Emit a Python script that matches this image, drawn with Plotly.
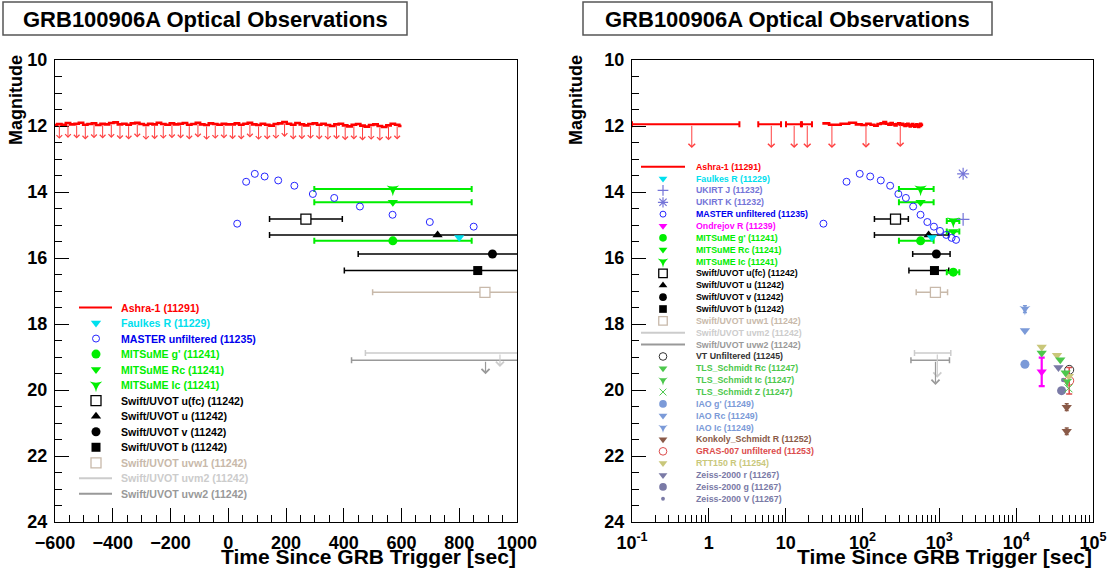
import numpy as np
import plotly.graph_objects as go

W, H = 1112, 576
FONT = "Liberation Sans"

# ----------------------------- data -----------------------------
# Ashra-1 (11291) upper limits, linear-time view
ashra_t = [-600, -585, -570, -555, -540, -525, -510, -495, -480, -465,
           -450, -435, -420, -405, -390, -375, -360, -345, -330, -315,
           -300, -285, -270, -255, -240, -225, -210, -195, -180, -165,
           -150, -135, -120, -105, -90, -75, -60, -45, -30, -15,
           0, 15, 30, 45, 60, 75, 90, 105, 120, 135,
           150, 165, 180, 195, 210, 225, 240, 255, 270, 285,
           300, 315, 330, 345, 360, 375, 390, 405, 420, 435,
           450, 465, 480, 495, 510, 525, 540, 555, 570, 585,
           600]
ashra_mag = [11.97, 11.94, 11.96, 11.91, 11.95, 11.93, 11.90, 11.96, 11.94, 11.92,
             11.97, 11.93, 11.95, 11.91, 11.89, 11.95, 11.93, 11.96, 11.92, 11.90,
             11.94, 11.97, 11.93, 11.95, 11.90, 11.94, 11.96, 11.92, 11.95, 11.93,
             11.91, 11.96, 11.94, 11.90, 11.95, 11.97, 11.92, 11.94, 11.96, 11.93,
             11.95, 11.95, 11.92, 11.96, 11.93, 11.90, 11.95, 11.97, 11.93, 11.96,
             11.99, 11.94, 11.92, 11.88, 11.93, 11.96, 11.91, 11.95, 11.98, 11.94,
             11.92, 11.96, 11.93, 11.97, 12.00, 11.95, 11.93, 11.98, 12.01, 11.96,
             11.94, 11.99, 12.02, 11.97, 11.95, 12.00, 12.03, 11.98, 11.93, 11.96,
             12.00]
# Ashra-1 early bins and upper-limit marks (log-time view)
ashra_bin_t = [0.6, 6.5, 12.9, 19.1]
ashra_bin_lo = [-1.3, 4.4, 10.1, 16.3]
ashra_bin_hi = [2.5, 8.7, 15.8, 22.0]
ashra_bin_mag = [11.95, 11.95, 11.95, 11.95]
ashra_ul_t = [40, 111, 310]
ashra_ul_mag = [11.95, 11.94, 11.92]

faulkes_t = [800]
faulkes_mag = [15.38]

ukirt_j_t = [2040]
ukirt_j_mag = [14.83]
ukirt_k_t = [2040]
ukirt_k_mag = [13.45]

master_t = [31, 62, 92, 126, 173, 229, 293, 367, 456, 569, 698, 850, 1020, 1230, 1445, 1650]
master_mag = [14.96, 13.69, 13.45, 13.53, 13.65, 13.81, 14.06, 14.18, 14.44, 14.69, 14.91,
              15.05, 15.18, 15.30, 15.39, 15.45]

ondrejov_t = [21500]
ondrejov_mag = [19.45]
ondrejov_err = [0.43]

mitsume_t = [570, 1520]
mitsume_lo = [298, 1250]
mitsume_hi = [843, 1820]
mitsume_g = [15.48, 16.43]
mitsume_rc = [14.31, 15.20]
mitsume_ic = [13.91, 14.88]

uvot_ufc_t, uvot_ufc_lo, uvot_ufc_hi, uvot_ufc_mag = [269], [143], [395], [14.82]
uvot_u_t, uvot_u_lo, uvot_u_hi, uvot_u_mag = [725], [143], [1320], [15.30]
uvot_v_t, uvot_v_lo, uvot_v_hi, uvot_v_mag = [915], [450], [1380], [15.88]
uvot_b_t, uvot_b_lo, uvot_b_hi, uvot_b_mag = [864], [402], [1326], [16.38]
uvot_uvw1_t, uvot_uvw1_lo, uvot_uvw1_hi, uvot_uvw1_mag = [889], [500], [1280], [17.04]
uvot_uvm2_t, uvot_uvm2_lo, uvot_uvm2_hi, uvot_uvm2_mag = [941], [475], [1410], [18.88]
uvot_uvw2_t, uvot_uvw2_lo, uvot_uvw2_hi, uvot_uvw2_mag = [891], [427], [1355], [19.10]

vt_t, vt_mag = [49000], [19.39]
tls_rc_t, tls_rc_mag = [21500, 37500, 44000], [18.88, 19.08, 19.48]
tls_ic_t, tls_ic_mag = [46000], [19.75]
tls_z_t, tls_z_mag = [48000], [19.95]
iao_g_t, iao_g_mag = [13000], [19.22]
iao_rc_t, iao_rc_mag = [13000], [18.20]
iao_ic_t, iao_ic_mag = [13000], [17.55]
konkoly_t, konkoly_mag = [45500, 45500], [20.52, 21.25]
gras_t, gras_mag, gras_err = [49000], [19.72], [0.40]
rtt_t, rtt_mag = [21500, 34000, 48500], [18.70, 18.95, 19.58]
zeiss_r_t, zeiss_r_mag = [35500], [19.32]
zeiss_g_t, zeiss_g_mag = [39000], [20.02]
zeiss_v_t, zeiss_v_mag = [41000], [19.70]

x_lin_ticks = [-600, -400, -200, 0, 200, 400, 600, 800, 1000]
x_log_ticks = [0.1, 1, 10, 100, 1000, 10000, 100000]
x_log_text = ['10<sup>-1</sup>', '1', '10', '10<sup>2</sup>', '10<sup>3</sup>', '10<sup>4</sup>', '10<sup>5</sup>']
y_ticks = [10, 12, 14, 16, 18, 20, 22, 24]

# ----------------------------- styles -----------------------------
S = {
    'ashra':   dict(label='Ashra-1 (11291)', color='#ff0000', kind='line'),
    'faulkes': dict(label='Faulkes R (11229)', color='#00e0ee', symbol='triangle-down', size=9),
    'ukirt_j': dict(label='UKIRT J (11232)', color='#7474d8', symbol='cross-thin-open', size=9, lw=1.2),
    'ukirt_k': dict(label='UKIRT K (11232)', color='#7474d8', symbol='asterisk-open', size=10, lw=1.2),
    'master':  dict(label='MASTER unfiltered (11235)', color='#2626ff', tcolor='#0000ee',
                    symbol='circle-open', size=7, lw=1),
    'ondrejov': dict(label='Ondrejov R (11239)', color='#ff00ff', symbol='triangle-down', size=9),
    'mits_g':  dict(label="MITSuME g' (11241)", color='#00ee00', symbol='circle', size=9),
    'mits_rc': dict(label='MITSuME Rc (11241)', color='#00ee00', symbol='triangle-down', size=9),
    'mits_ic': dict(label='MITSuME Ic (11241)', color='#00ee00', symbol='star-triangle-down', size=9),
    'ufc':  dict(label='Swift/UVOT u(fc) (11242)', color='#000000', symbol='square', size=10, fill='white', lw=1.3),
    'u':    dict(label='Swift/UVOT u (11242)', color='#000000', symbol='triangle-up', size=9),
    'v':    dict(label='Swift/UVOT v (11242)', color='#000000', symbol='circle', size=9),
    'b':    dict(label='Swift/UVOT b (11242)', color='#000000', symbol='square', size=9),
    'uvw1': dict(label='Swift/UVOT uvw1 (11242)', color='#c8b9aa', symbol='square', size=10, fill='white', lw=1.3),
    'uvm2': dict(label='Swift/UVOT uvm2 (11242)', color='#cccccc', kind='line'),
    'uvw2': dict(label='Swift/UVOT uvw2 (11242)', color='#999999', kind='line'),
    'vt':     dict(label='VT Unfiltered (11245)', color='#333333', symbol='circle-open', size=9, lw=1),
    'tls_rc': dict(label='TLS_Schmidt Rc (11247)', color='#4cc84c', symbol='triangle-down', size=9),
    'tls_ic': dict(label='TLS_Schmidt Ic (11247)', color='#4cc84c', symbol='star-triangle-down', size=8),
    'tls_z':  dict(label='TLS_Schmidt Z (11247)', color='#4cc84c', symbol='x-thin-open', size=8, lw=1),
    'iao_g':  dict(label="IAO g' (11249)", color='#7b9ad8', symbol='circle', size=9),
    'iao_rc': dict(label='IAO Rc (11249)', color='#7b9ad8', symbol='triangle-down', size=9),
    'iao_ic': dict(label='IAO Ic (11249)', color='#7b9ad8', symbol='star-triangle-down', size=8),
    'konkoly': dict(label='Konkoly_Schmidt R (11252)', color='#8a5a48', symbol='triangle-down', size=9),
    'gras':    dict(label='GRAS-007 unfiltered (11253)', color='#dc4c4c', symbol='circle-open', size=9, lw=1),
    'rtt':     dict(label='RTT150 R (11254)', color='#c9c77a', symbol='triangle-down', size=9),
    'zeiss_r': dict(label='Zeiss-2000 r (11267)', color='#7a7aa6', symbol='triangle-down', size=9),
    'zeiss_g': dict(label='Zeiss-2000 g (11267)', color='#7a7aa6', symbol='circle', size=9),
    'zeiss_v': dict(label='Zeiss-2000 V (11267)', color='#7a7aa6', symbol='circle', size=4.5),
}


def mk(key, scale=1.0):
    st = S[key]
    sym, size = st['symbol'], st['size'] * scale
    if 'fill' in st:
        return dict(symbol=sym, size=size, color=st['fill'], line=dict(color=st['color'], width=st.get('lw', 1)))
    if sym.endswith('-open'):
        return dict(symbol=sym, size=size, color=st['color'], line=dict(color=st['color'], width=st.get('lw', 1)))
    return dict(symbol=sym, size=size, color=st['color'], line=dict(width=0))


fig = go.Figure()
annotations = []
shapes = []


def axes_of(p):
    return ('x', 'y') if p == 1 else ('x2', 'y2')


def add_points(p, t, mag, marker=None, lo=None, hi=None, yerr=None,
               errcolor='black', errwidth=1.5, capw=3, mode='markers', line=None):
    t = np.asarray(t, float)
    mag = np.asarray(mag, float)
    keep = t > 0 if p == 2 else np.ones(len(t), bool)
    if not keep.any():
        return
    xa, ya = axes_of(p)
    kw = {}
    if lo is not None:
        lo_a = np.asarray(lo, float)
        hi_a = np.asarray(hi, float)
        if p == 2:
            lo_a = np.where(lo_a > 0.1, lo_a, 0.1)
        kw['error_x'] = dict(type='data', symmetric=False, array=(hi_a - t)[keep],
                             arrayminus=(t - lo_a)[keep], color=errcolor,
                             thickness=errwidth, width=capw)
    if yerr is not None:
        kw['error_y'] = dict(type='data', array=np.asarray(yerr, float)[keep],
                             color=errcolor, thickness=errwidth, width=capw)
    if marker is None:
        marker = dict(size=1, color='rgba(0,0,0,0)')
    fig.add_trace(go.Scatter(x=t[keep], y=mag[keep], mode=mode, marker=marker, line=line,
                             xaxis=xa, yaxis=ya, hoverinfo='skip', showlegend=False, **kw))


def ul_arrow(p, t, mag, L, color, width=1.0, size=1.6):
    if p == 1:
        x, xr, yr = t, 'x', 'y'
    else:
        x, xr, yr = float(np.log10(t)), 'x2', 'y2'
    annotations.append(dict(x=x, y=mag + L, ax=x, ay=mag, xref=xr, yref=yr, axref=xr, ayref=yr,
                            showarrow=True, text='', arrowhead=4, arrowsize=size,
                            arrowwidth=width, arrowcolor=color, standoff=0, startstandoff=0))


RED = S['ashra']['color']

# ---------------- Ashra-1 ----------------
at = np.asarray(ashra_t, float)
am = np.asarray(ashra_mag, float)
add_points(1, at, am, mode='lines', line=dict(color=RED, width=2.6, shape='hvh'))
for tt, mm in zip(at[1::2], am[1::2]):
    ul_arrow(1, tt, mm, 0.45, '#ff4040', width=1.0, size=1.1)
late = at > 22
add_points(2, at[late], am[late], mode='lines', line=dict(color=RED, width=2.6, shape='hvh'))
add_points(2, ashra_bin_t, ashra_bin_mag, lo=ashra_bin_lo, hi=ashra_bin_hi,
           errcolor=RED, errwidth=2, capw=3)
for tt, mm in zip(ashra_bin_t, ashra_bin_mag):
    ul_arrow(2, tt, mm, 0.72, '#ff4040', size=1.3)
for tt, mm in zip(ashra_ul_t, ashra_ul_mag):
    ul_arrow(2, tt, mm, 0.72, '#ff4040', size=1.3)

# ---------------- other series, both panels ----------------
for p in (1, 2):
    # Swift/UVOT limits
    add_points(p, uvot_uvm2_t, uvot_uvm2_mag, lo=uvot_uvm2_lo, hi=uvot_uvm2_hi,
               errcolor=S['uvm2']['color'], errwidth=1.5, capw=3)
    add_points(p, uvot_uvw2_t, uvot_uvw2_mag, lo=uvot_uvw2_lo, hi=uvot_uvw2_hi,
               errcolor=S['uvw2']['color'], errwidth=1.5, capw=3)
    L = 0.42 if p == 1 else 0.75
    ul_arrow(p, uvot_uvm2_t[0], uvot_uvm2_mag[0], L, S['uvm2']['color'], width=1.2, size=1.3)
    ul_arrow(p, uvot_uvw2_t[0], uvot_uvw2_mag[0], L, S['uvw2']['color'], width=1.2, size=1.3)

    add_points(p, uvot_uvw1_t, uvot_uvw1_mag, marker=mk('uvw1'), lo=uvot_uvw1_lo, hi=uvot_uvw1_hi,
               errcolor=S['uvw1']['color'])
    add_points(p, uvot_b_t, uvot_b_mag, marker=mk('b'), lo=uvot_b_lo, hi=uvot_b_hi)
    add_points(p, uvot_v_t, uvot_v_mag, marker=mk('v'), lo=uvot_v_lo, hi=uvot_v_hi)
    add_points(p, uvot_u_t, uvot_u_mag, marker=mk('u'), lo=uvot_u_lo, hi=uvot_u_hi)
    add_points(p, uvot_ufc_t, uvot_ufc_mag, marker=mk('ufc'), lo=uvot_ufc_lo, hi=uvot_ufc_hi)

    # MITSuME
    gcol = S['mits_g']['color']
    add_points(p, mitsume_t, mitsume_g, marker=mk('mits_g'), lo=mitsume_lo, hi=mitsume_hi,
               errcolor=gcol, errwidth=2)
    add_points(p, mitsume_t, mitsume_rc, marker=mk('mits_rc'), lo=mitsume_lo, hi=mitsume_hi,
               errcolor=gcol, errwidth=2)
    add_points(p, mitsume_t, mitsume_ic, marker=mk('mits_ic'), lo=mitsume_lo, hi=mitsume_hi,
               errcolor=gcol, errwidth=2)

    add_points(p, faulkes_t, faulkes_mag, marker=mk('faulkes'))
    add_points(p, master_t, master_mag, marker=mk('master'))

    if p == 2:
        add_points(p, ukirt_j_t, ukirt_j_mag, marker=mk('ukirt_j'))
        add_points(p, ukirt_k_t, ukirt_k_mag, marker=mk('ukirt_k'))
        add_points(p, iao_g_t, iao_g_mag, marker=mk('iao_g'))
        add_points(p, iao_rc_t, iao_rc_mag, marker=mk('iao_rc'))
        add_points(p, iao_ic_t, iao_ic_mag, marker=mk('iao_ic'), yerr=[0.1],
                   errcolor=S['iao_ic']['color'], capw=2)
        add_points(p, konkoly_t, konkoly_mag, marker=mk('konkoly'), yerr=[0.1, 0.1],
                   errcolor=S['konkoly']['color'], capw=2)
        add_points(p, zeiss_g_t, zeiss_g_mag, marker=mk('zeiss_g'))
        add_points(p, zeiss_r_t, zeiss_r_mag, marker=mk('zeiss_r'))
        add_points(p, zeiss_v_t, zeiss_v_mag, marker=mk('zeiss_v'))
        add_points(p, ondrejov_t, ondrejov_mag, marker=mk('ondrejov'), yerr=ondrejov_err,
                   errcolor=S['ondrejov']['color'], errwidth=2.2, capw=3)
        add_points(p, gras_t, gras_mag, marker=mk('gras'), yerr=gras_err,
                   errcolor=S['gras']['color'], errwidth=1.5, capw=3)
        add_points(p, vt_t, vt_mag, marker=mk('vt'))
        add_points(p, rtt_t, rtt_mag, marker=mk('rtt'))
        add_points(p, tls_rc_t, tls_rc_mag, marker=mk('tls_rc'))
        add_points(p, tls_ic_t, tls_ic_mag, marker=mk('tls_ic'))
        add_points(p, tls_z_t, tls_z_mag, marker=mk('tls_z'))

# ---------------- legends (overlay pixel axes x3/y3) ----------------
left_legend = ['ashra', 'faulkes', 'master', 'mits_g', 'mits_rc', 'mits_ic',
               'ufc', 'u', 'v', 'b', 'uvw1', 'uvm2', 'uvw2']
right_legend = ['ashra', 'faulkes', 'ukirt_j', 'ukirt_k', 'master', 'ondrejov',
                'mits_g', 'mits_rc', 'mits_ic', 'ufc', 'u', 'v', 'b', 'uvw1', 'uvm2', 'uvw2',
                'vt', 'tls_rc', 'tls_ic', 'tls_z', 'iao_g', 'iao_rc', 'iao_ic',
                'konkoly', 'gras', 'rtt', 'zeiss_r', 'zeiss_g', 'zeiss_v']


def draw_legend(keys, xm, xl0, xl1, xt, y0, dy, fsize, mscale):
    for i, key in enumerate(keys):
        st = S[key]
        y = y0 + i * dy
        if st.get('kind') == 'line':
            shapes.append(dict(type='line', xref='x3', yref='y3', x0=xl0, x1=xl1, y0=y, y1=y,
                               line=dict(color=st['color'], width=2)))
        else:
            fig.add_trace(go.Scatter(x=[xm], y=[y], mode='markers', marker=mk(key, mscale),
                                     xaxis='x3', yaxis='y3', hoverinfo='skip', showlegend=False))
        annotations.append(dict(x=xt, y=y, xref='x3', yref='y3', text='<b>' + st['label'] + '</b>',
                                showarrow=False, xanchor='left', yanchor='middle',
                                font=dict(family=FONT, size=fsize, color=st.get('tcolor', st['color']))))


draw_legend(left_legend, 96, 79, 112, 119, 307.5, 15.53, 10.6, 1.0)
draw_legend(right_legend, 663, 641, 685, 694, 166.7, 11.86, 8.8, 0.85)

# ---------------- titles & axis titles ----------------
for (bx0, bx1) in [(3, 407), (583, 992)]:
    shapes.append(dict(type='rect', xref='x3', yref='y3', x0=bx0, x1=bx1, y0=2, y1=35,
                       line=dict(color='#555555', width=1.5), fillcolor='white', layer='below'))
    annotations.append(dict(x=(bx0 + bx1) / 2, y=19, xref='x3', yref='y3',
                            text='<b>GRB100906A Optical Observations</b>', showarrow=False,
                            xanchor='center', yanchor='middle',
                            font=dict(family=FONT, size=22, color='black')))
for xc in (16, 576):
    annotations.append(dict(x=xc, y=53, xref='x3', yref='y3', text='<b>Magnitude</b>',
                            textangle=-90, showarrow=False, xanchor='center', yanchor='top',
                            font=dict(family=FONT, size=18, color='black')))
for xr in (518, 1094):
    annotations.append(dict(x=xr, y=556, xref='x3', yref='y3',
                            text='<b>Time Since GRB Trigger [sec]</b>', showarrow=False,
                            xanchor='right', yanchor='middle',
                            font=dict(family=FONT, size=21, color='black')))

# ---------------- axes ----------------
tickfont = dict(family=FONT, size=18, color='black', weight='bold')
ydom = [1 - 522 / H, 1 - 60 / H]
yax = dict(domain=ydom, range=[24, 10], tickmode='array', tickvals=y_ticks,
           ticks='inside', ticklen=14, tickwidth=1, tickcolor='black',
           minor=dict(dtick=0.5, tick0=10, ticks='inside', ticklen=7, tickwidth=1, tickcolor='black'),
           showline=True, linecolor='black', linewidth=1, mirror=True,
           showgrid=False, zeroline=False, tickfont=tickfont, ticklabelstandoff=3, automargin=False)
minor_log = [k * 10.0 ** e for e in range(-1, 5) for k in range(2, 10)]

fig.update_layout(
    width=W, height=H, margin=dict(l=0, r=0, t=0, b=0, pad=0, autoexpand=False),
    paper_bgcolor='white', plot_bgcolor='rgba(0,0,0,0)', showlegend=False,
    xaxis=dict(domain=[55 / W, 517 / W], range=[-600, 1000], anchor='y',
               tickmode='array', tickvals=x_lin_ticks,
               ticks='inside', ticklen=14, tickwidth=1, tickcolor='black',
               minor=dict(dtick=50, tick0=-600, ticks='inside', ticklen=7, tickwidth=1, tickcolor='black'),
               showline=True, linecolor='black', linewidth=1, mirror=True, automargin=False,
               showgrid=False, zeroline=False, tickfont=tickfont, ticklabelstandoff=4),
    yaxis=dict(anchor='x', **yax),
    xaxis2=dict(domain=[632 / W, 1093 / W], type='log', range=[-1, 5], anchor='y2',
                tickmode='array', tickvals=x_log_ticks, ticktext=x_log_text,
                ticks='inside', ticklen=14, tickwidth=1, tickcolor='black',
                minor=dict(tickmode='array', tickvals=minor_log, ticks='inside', ticklen=7,
                           tickwidth=1, tickcolor='black'),
                showline=True, linecolor='black', linewidth=1, mirror=True, automargin=False,
                showgrid=False, zeroline=False, tickfont=tickfont, ticklabelstandoff=4),
    yaxis2=dict(anchor='x2', **yax),
    xaxis3=dict(domain=[0, 1], range=[0, W], visible=False, anchor='y3', fixedrange=True, automargin=False),
    yaxis3=dict(domain=[0, 1], range=[H, 0], visible=False, anchor='x3', fixedrange=True, automargin=False),
    annotations=annotations,
    shapes=shapes,
)

fig.write_html("out.html", config={'displayModeBar': False},
               post_script="document.body.style.margin='0px';document.body.style.overflow='hidden';")
